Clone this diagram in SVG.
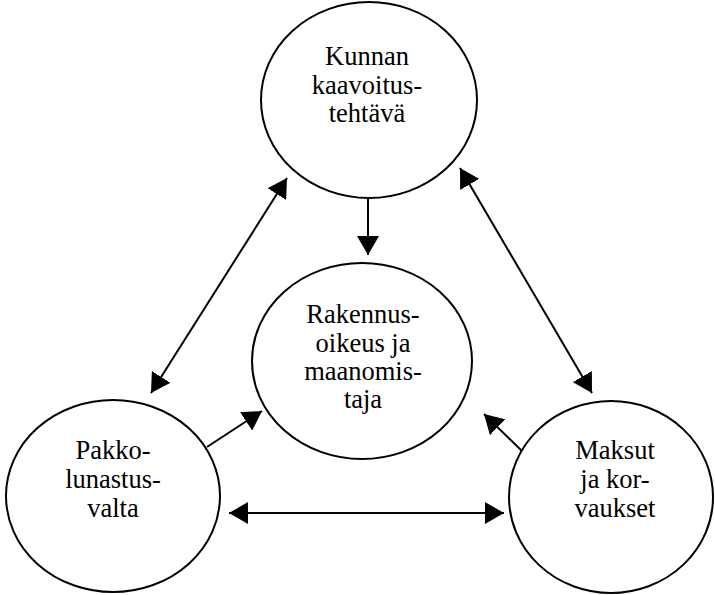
<svg xmlns="http://www.w3.org/2000/svg" width="715" height="595" viewBox="0 0 715 595">
<style>
.n ellipse{fill:#fff;stroke:#000;stroke-width:2}
.n text{font-family:'Liberation Serif','Times New Roman',serif;font-size:26.5px;text-anchor:middle;fill:#000}
.c line{stroke:#000;stroke-width:2;fill:none}
</style>
<defs>
<marker id="ah" markerUnits="userSpaceOnUse" markerWidth="20" markerHeight="22" refX="19" refY="11" orient="auto-start-reverse" viewBox="0 0 20 22">
<path d="M0,0 L19,11 L0,22 z" fill="#000"/>
</marker>
</defs>
<rect width="715" height="595" fill="#fff"/>
<g id="kunnan" class="n">
<ellipse cx="369" cy="100" rx="108" ry="98"/>
<text x="367" y="65">Kunnan</text>
<text x="367" y="94">kaavoitus-</text>
<text x="367" y="122">tehtävä</text>
</g>
<g id="rakennus" class="n">
<ellipse cx="362" cy="361" rx="110" ry="98"/>
<text x="363" y="323">Rakennus-</text>
<text x="363" y="352">oikeus ja</text>
<text x="363" y="380">maanomis-</text>
<text x="363" y="408">taja</text>
</g>
<g id="pakko" class="n">
<ellipse cx="113" cy="496" rx="107" ry="96"/>
<text x="113" y="459">Pakko-</text>
<text x="113" y="488">lunastus-</text>
<text x="113" y="517">valta</text>
</g>
<g id="maksut" class="n">
<ellipse cx="611" cy="497" rx="102" ry="96"/>
<text x="615" y="459">Maksut</text>
<text x="615" y="488">ja kor-</text>
<text x="615" y="517">vaukset</text>
</g>
<g id="connectors" class="c">
<line x1="368" y1="198" x2="368" y2="255" marker-end="url(#ah)"/>
<line x1="151" y1="393" x2="287" y2="178" marker-start="url(#ah)" marker-end="url(#ah)"/>
<line x1="460" y1="168" x2="592" y2="393" marker-start="url(#ah)" marker-end="url(#ah)"/>
<line x1="207" y1="447" x2="262" y2="411" marker-end="url(#ah)"/>
<line x1="522" y1="451" x2="484" y2="414" marker-end="url(#ah)"/>
<line x1="229" y1="513" x2="504" y2="513" marker-start="url(#ah)" marker-end="url(#ah)"/>
</g>
</svg>
